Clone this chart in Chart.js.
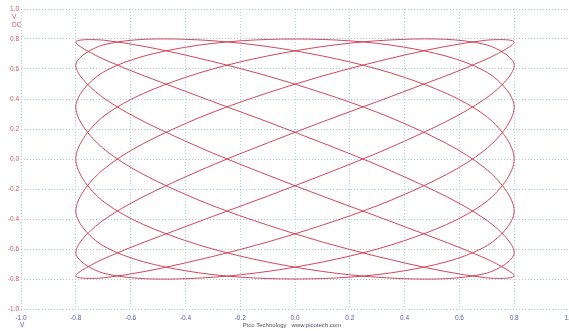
<!DOCTYPE html>
<html>
<head>
<meta charset="utf-8">
<script src="https://cdn.jsdelivr.net/npm/chart.js@4.4.1/dist/chart.umd.min.js"></script>
<style>
    html, body { margin: 0; padding: 0; background: #ffffff; }
    #wrap { width: 569px; height: 331px; position: relative; }
</style>
</head>
<body>
<div id="wrap"><canvas id="scope"></canvas></div>
<script>
// 7 swings left/right for every 5 swings up/down.
const traceX = [
    -0.8, -0.693, -0.4, 0, 0.4, 0.693, 0.8, 0.693, 0.4, 0, -0.4, -0.693,
    -0.8, -0.693, -0.4, 0, 0.4, 0.693, 0.8, 0.693, 0.4, 0, -0.4, -0.693,
    -0.8, -0.693, -0.4, 0, 0.4, 0.693, 0.8, 0.693, 0.4, 0, -0.4, -0.693,
    -0.8, -0.693, -0.4, 0, 0.4, 0.693, 0.8, 0.693, 0.4, 0, -0.4, -0.693,
    -0.8, -0.693, -0.4, 0, 0.4, 0.693, 0.8, 0.693, 0.4, 0, -0.4, -0.693,
    -0.8, -0.693, -0.4, 0, 0.4, 0.693, 0.8, 0.693, 0.4, 0, -0.4, -0.693,
    -0.8, -0.693, -0.4, 0, 0.4, 0.693, 0.8, 0.693, 0.4, 0, -0.4, -0.693
];
const traceY = [
    0, 0.292, 0.544, 0.721, 0.798, 0.764, 0.625, 0.400, 0.119, -0.178, -0.451, -0.661,
    -0.780, -0.791, -0.693, -0.499, -0.236, 0.060, 0.347, 0.586, 0.745, 0.800, 0.745, 0.586,
    0.347, 0.060, -0.236, -0.499, -0.693, -0.791, -0.780, -0.661, -0.451, -0.178, 0.119, 0.400,
    0.625, 0.764, 0.798, 0.721, 0.544, 0.292, 0, -0.292, -0.544, -0.721, -0.798, -0.764,
    -0.625, -0.400, -0.119, 0.178, 0.451, 0.661, 0.780, 0.791, 0.693, 0.499, 0.236, -0.060,
    -0.347, -0.586, -0.745, -0.800, -0.745, -0.586, -0.347, -0.060, 0.236, 0.499, 0.693, 0.791,
    0.780, 0.661, 0.451, 0.178, -0.119, -0.400, -0.625, -0.764, -0.798, -0.721, -0.544, -0.292
];

// Axis ticks (volts)
const xTicks = [-1.0, -0.8, -0.6, -0.4, -0.2, 0.0, 0.2, 0.4, 0.6, 0.8, 1.0];
const yTicks = [-1.0, -0.8, -0.6, -0.4, -0.2, 0.0, 0.2, 0.4, 0.6, 0.8, 1.0];

const xUnit = "V";
const yUnit = ["V", "DC"];
const footer = "Pico Technology   www.picotech.com";

const traceColor = "rgb(204, 50, 72)";
const gridColor = "#a9d2e3";
const yLabelColor = "#d0585e";
const xLabelColor = "#5a5ca8";
const fontFamily = "'Liberation Sans', Arial, sans-serif";

// closed loop: wrap one point on each side so the spline has neighbours
// at the seam, then hide the two extra segments
const n = traceX.length;
const points = [];
points.push({ x: traceX[n - 1], y: traceY[n - 1] });
for (let i = 0; i < n; i++) {
    points.push({ x: traceX[i], y: traceY[i] });
}
points.push({ x: traceX[0], y: traceY[0] });
points.push({ x: traceX[1], y: traceY[1] });
const last = points.length - 1;

function fmt(v) {
    return (Math.round(v * 10) / 10).toFixed(1);
}

// unit captions and the footer line
const captions = {
    id: "captions",
    afterDraw(chart) {
        const ctx = chart.ctx;
        ctx.save();
        ctx.font = "6.5px " + fontFamily;
        ctx.textBaseline = "middle";
        ctx.textAlign = "left";
        ctx.fillStyle = yLabelColor;
        ctx.fillText(yUnit[0], 12, 17);
        ctx.fillText(yUnit[1], 12, 25);
        ctx.fillStyle = xLabelColor;
        ctx.fillText(xUnit, 20, 325);
        ctx.font = "6px " + fontFamily;
        ctx.fillStyle = "#4c4c66";
        ctx.textAlign = "center";
        ctx.fillText(footer, 292, 325);
        ctx.restore();
    }
};

new Chart(document.getElementById("scope"), {
    type: "scatter",
    data: {
        datasets: [{
            label: "XY",
            data: points,
            showLine: true,
            tension: 0.33,
            borderColor: traceColor,
            borderWidth: 0.9,
            pointRadius: 0,
            pointHoverRadius: 0,
            segment: {
                borderColor: ctx => (ctx.p0DataIndex === 0 || ctx.p1DataIndex === last) ? "rgba(0,0,0,0)" : undefined
            }
        }]
    },
    options: {
        responsive: true,
        maintainAspectRatio: false,
        animation: false,
        events: [],
        layout: {
            padding: { top: 9, right: 0, bottom: 0, left: 0 }
        },
        plugins: {
            legend: { display: false },
            tooltip: { enabled: false }
        },
        scales: {
            x: {
                type: "linear",
                min: xTicks[0],
                max: xTicks[xTicks.length - 1],
                afterBuildTicks: scale => { scale.ticks = xTicks.map(v => ({ value: v })); },
                afterFit: scale => {
                    scale.height = 22;
                    scale.paddingRight = 0;
                },
                border: { display: false, dash: [1, 2] },
                grid: {
                    color: gridColor,
                    lineWidth: 1,
                    drawTicks: false
                },
                ticks: {
                    color: xLabelColor,
                    font: { family: fontFamily, size: 6.5 },
                    padding: 5,
                    maxRotation: 0,
                    autoSkip: false,
                    callback: v => fmt(v)
                }
            },
            y: {
                type: "linear",
                min: yTicks[0],
                max: yTicks[yTicks.length - 1],
                afterBuildTicks: scale => { scale.ticks = yTicks.map(v => ({ value: v })); },
                afterFit: scale => { scale.width = 21; },
                border: { display: false, dash: [1, 2] },
                grid: {
                    color: gridColor,
                    lineWidth: 1,
                    drawTicks: false
                },
                ticks: {
                    color: yLabelColor,
                    font: { family: fontFamily, size: 6.5 },
                    padding: 2,
                    autoSkip: false,
                    callback: v => fmt(v)
                }
            }
        }
    },
    plugins: [captions]
});
</script>
</body>
</html>
